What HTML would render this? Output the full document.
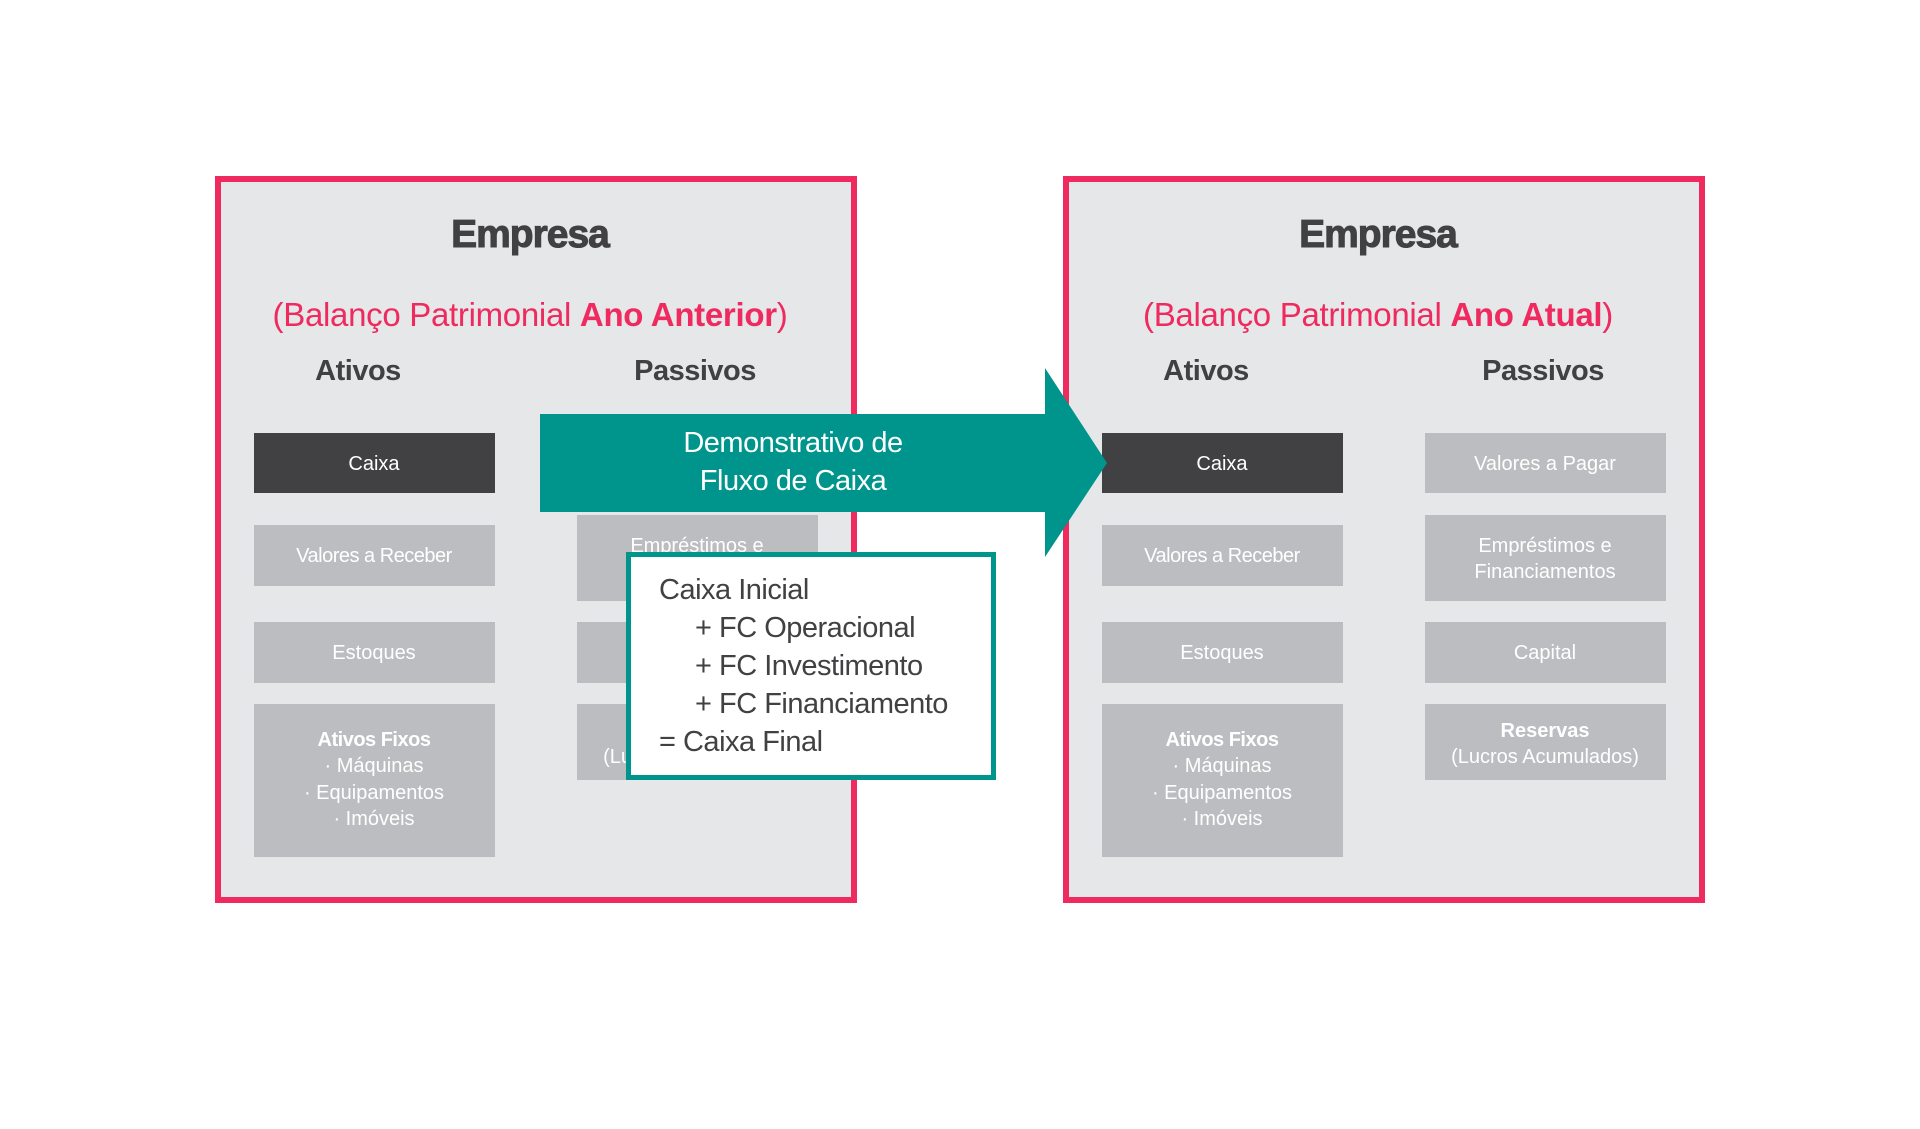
<!DOCTYPE html>
<html><head><meta charset="utf-8"><style>
html,body{margin:0;padding:0;background:#fff;}
svg{display:block;}
text{font-family:"Liberation Sans",sans-serif;}
</style></head><body>
<svg width="1920" height="1129" viewBox="0 0 1920 1129" xmlns="http://www.w3.org/2000/svg">
<rect width="1920" height="1129" fill="#fff"/>
<g id="L">
<rect x="218" y="179" width="636" height="721" fill="#e6e7e8" stroke="#ee2a5f" stroke-width="6"/>
<text x="530" y="247" font-size="39" font-weight="bold" fill="#414042" stroke="#414042" stroke-width="1" text-anchor="middle" letter-spacing="-1">Empresa</text>
<text x="530" y="326" font-size="33" fill="#ee2a5f" text-anchor="middle" letter-spacing="-0.3">(Balanço Patrimonial <tspan font-weight="bold">Ano Anterior</tspan>)</text>
<text x="358" y="380" font-size="29" font-weight="bold" fill="#414042" text-anchor="middle" letter-spacing="-0.5">Ativos</text>
<text x="695" y="380" font-size="29" font-weight="bold" fill="#414042" text-anchor="middle" letter-spacing="-0.5">Passivos</text>
<rect x="254" y="433" width="241" height="60" fill="#414042"/>
<text x="374" y="470" font-size="20" fill="#fff" text-anchor="middle">Caixa</text>
<rect x="254" y="525" width="241" height="61" fill="#bcbdc0"/>
<text x="374" y="562" font-size="20" fill="#fff" text-anchor="middle" letter-spacing="-0.5">Valores a Receber</text>
<rect x="254" y="622" width="241" height="61" fill="#bcbdc0"/>
<text x="374" y="659" font-size="20" fill="#fff" text-anchor="middle">Estoques</text>
<rect x="254" y="704" width="241" height="153" fill="#bcbdc0"/>
<text x="374" y="746" font-size="20" font-weight="bold" fill="#fff" text-anchor="middle" letter-spacing="-0.5">Ativos Fixos</text>
<text x="374" y="772" font-size="20" fill="#fff" text-anchor="middle">· Máquinas</text>
<text x="374" y="799" font-size="20" fill="#fff" text-anchor="middle">· Equipamentos</text>
<text x="374" y="825" font-size="20" fill="#fff" text-anchor="middle">· Imóveis</text>
<rect x="577" y="433" width="241" height="60" fill="#bcbdc0"/>
<text x="697" y="470" font-size="20" fill="#fff" text-anchor="middle">Valores a Pagar</text>
<rect x="577" y="515" width="241" height="86" fill="#bcbdc0"/>
<text x="697" y="552" font-size="20" fill="#fff" text-anchor="middle">Empréstimos e</text>
<text x="697" y="578" font-size="20" fill="#fff" text-anchor="middle">Financiamentos</text>
<rect x="577" y="622" width="241" height="61" fill="#bcbdc0"/>
<text x="697" y="659" font-size="20" fill="#fff" text-anchor="middle">Capital</text>
<rect x="577" y="704" width="241" height="76" fill="#bcbdc0"/>
<text x="697" y="737" font-size="20" font-weight="bold" fill="#fff" text-anchor="middle">Reservas</text>
<text x="697" y="763" font-size="20" fill="#fff" text-anchor="middle">(Lucros Acumulados)</text>
</g>
<g transform="translate(848,0)">
<rect x="218" y="179" width="636" height="721" fill="#e6e7e8" stroke="#ee2a5f" stroke-width="6"/>
<text x="530" y="247" font-size="39" font-weight="bold" fill="#414042" stroke="#414042" stroke-width="1" text-anchor="middle" letter-spacing="-1">Empresa</text>
<text x="530" y="326" font-size="33" fill="#ee2a5f" text-anchor="middle" letter-spacing="-0.3">(Balanço Patrimonial <tspan font-weight="bold">Ano Atual</tspan>)</text>
<text x="358" y="380" font-size="29" font-weight="bold" fill="#414042" text-anchor="middle" letter-spacing="-0.5">Ativos</text>
<text x="695" y="380" font-size="29" font-weight="bold" fill="#414042" text-anchor="middle" letter-spacing="-0.5">Passivos</text>
<rect x="254" y="433" width="241" height="60" fill="#414042"/>
<text x="374" y="470" font-size="20" fill="#fff" text-anchor="middle">Caixa</text>
<rect x="254" y="525" width="241" height="61" fill="#bcbdc0"/>
<text x="374" y="562" font-size="20" fill="#fff" text-anchor="middle" letter-spacing="-0.5">Valores a Receber</text>
<rect x="254" y="622" width="241" height="61" fill="#bcbdc0"/>
<text x="374" y="659" font-size="20" fill="#fff" text-anchor="middle">Estoques</text>
<rect x="254" y="704" width="241" height="153" fill="#bcbdc0"/>
<text x="374" y="746" font-size="20" font-weight="bold" fill="#fff" text-anchor="middle" letter-spacing="-0.5">Ativos Fixos</text>
<text x="374" y="772" font-size="20" fill="#fff" text-anchor="middle">· Máquinas</text>
<text x="374" y="799" font-size="20" fill="#fff" text-anchor="middle">· Equipamentos</text>
<text x="374" y="825" font-size="20" fill="#fff" text-anchor="middle">· Imóveis</text>
<rect x="577" y="433" width="241" height="60" fill="#bcbdc0"/>
<text x="697" y="470" font-size="20" fill="#fff" text-anchor="middle">Valores a Pagar</text>
<rect x="577" y="515" width="241" height="86" fill="#bcbdc0"/>
<text x="697" y="552" font-size="20" fill="#fff" text-anchor="middle">Empréstimos e</text>
<text x="697" y="578" font-size="20" fill="#fff" text-anchor="middle">Financiamentos</text>
<rect x="577" y="622" width="241" height="61" fill="#bcbdc0"/>
<text x="697" y="659" font-size="20" fill="#fff" text-anchor="middle">Capital</text>
<rect x="577" y="704" width="241" height="76" fill="#bcbdc0"/>
<text x="697" y="737" font-size="20" font-weight="bold" fill="#fff" text-anchor="middle">Reservas</text>
<text x="697" y="763" font-size="20" fill="#fff" text-anchor="middle">(Lucros Acumulados)</text>
</g>
<polygon points="540,414 1045,414 1045,368 1107,463 1045,557 1045,512 540,512" fill="#00958c"/>
<text x="793" y="452" font-size="29" fill="#fff" text-anchor="middle" letter-spacing="-0.5">Demonstrativo de</text>
<text x="793" y="490" font-size="29" fill="#fff" text-anchor="middle" letter-spacing="-0.5">Fluxo de Caixa</text>
<rect x="628.5" y="554.5" width="365" height="223" fill="#fff" stroke="#00958c" stroke-width="5"/>
<g font-size="29" fill="#414042" letter-spacing="-0.5">
<text x="659" y="599">Caixa Inicial</text>
<text x="695" y="637">+ FC Operacional</text>
<text x="695" y="675">+ FC Investimento</text>
<text x="695" y="713">+ FC Financiamento</text>
<text x="659" y="751">= Caixa Final</text>
</g>
</svg>
</body></html>
